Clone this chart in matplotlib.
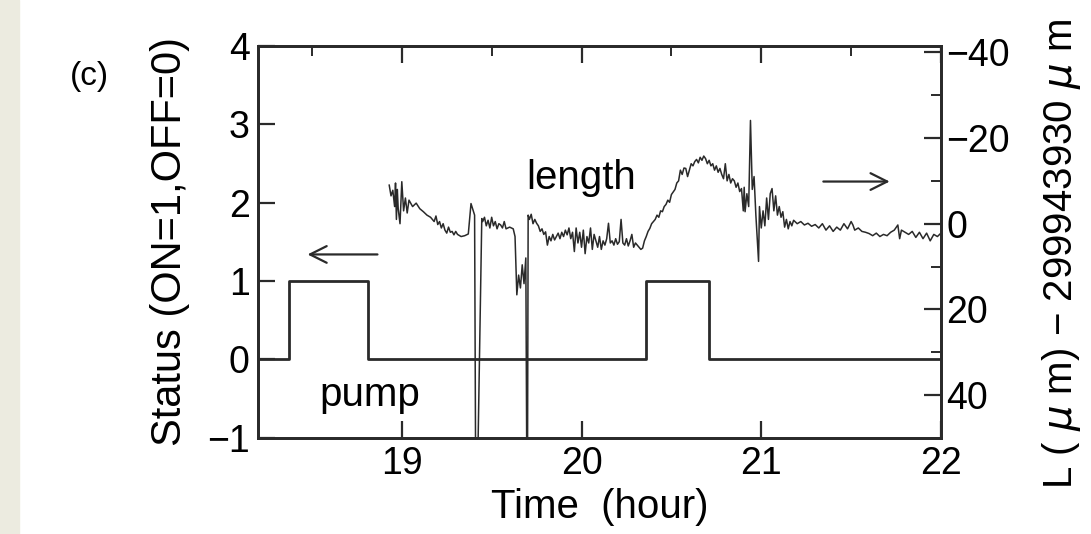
import matplotlib
matplotlib.use("Agg")
import matplotlib.pyplot as plt
from matplotlib.patches import Rectangle
from matplotlib.ticker import MultipleLocator

plt.rcParams['font.family'] = ['Liberation Sans', 'DejaVu Sans']
plt.rcParams['mathtext.fontset'] = 'dejavusans'

# pump status (step data)
pump_t = [18.2, 18.37, 18.37, 18.81, 18.81, 20.36, 20.36, 20.71, 20.71, 22.0]
pump_s = [0, 0, 1, 1, 0, 0, 1, 1, 0, 0]

# length trace, right axis (um); 80 = off scale below the frame
len_t = [18.93, 18.94, 18.95, 18.96, 18.965, 18.97, 18.975, 18.98, 18.99, 19.00,
         19.01, 19.02, 19.03, 19.04, 19.06, 19.08, 19.10, 19.12, 19.14, 19.16,
         19.18, 19.19, 19.20, 19.21, 19.22, 19.23, 19.24, 19.25, 19.26, 19.27,
         19.28, 19.29, 19.30, 19.31, 19.33, 19.35, 19.37, 19.385, 19.405, 19.413,
         19.445, 19.45, 19.46, 19.47, 19.48, 19.49, 19.50, 19.51, 19.52, 19.53,
         19.54, 19.55, 19.56, 19.57, 19.58, 19.60, 19.62, 19.63, 19.64, 19.65,
         19.66, 19.67, 19.68, 19.69, 19.698, 19.703, 19.71, 19.72, 19.73, 19.74,
         19.75, 19.76, 19.77, 19.78, 19.79, 19.80, 19.81, 19.82, 19.83, 19.84,
         19.85, 19.86, 19.87, 19.88, 19.89, 19.90, 19.91, 19.92, 19.93, 19.94,
         19.95, 19.96, 19.97, 19.98, 19.99, 20.00, 20.01, 20.02, 20.03, 20.04,
         20.05, 20.06, 20.07, 20.08, 20.09, 20.10, 20.11, 20.12, 20.13, 20.14,
         20.15, 20.16, 20.17, 20.18, 20.19, 20.20, 20.21, 20.22, 20.23, 20.24,
         20.25, 20.26, 20.27, 20.28, 20.29, 20.30, 20.31, 20.32, 20.33, 20.34,
         20.35, 20.36, 20.37, 20.38, 20.39, 20.40, 20.41, 20.42, 20.43, 20.44,
         20.45, 20.46, 20.47, 20.48, 20.49, 20.50, 20.51, 20.52, 20.53, 20.54,
         20.55, 20.56, 20.57, 20.58, 20.59, 20.60, 20.61, 20.62, 20.63, 20.64,
         20.65, 20.66, 20.67, 20.68, 20.69, 20.70, 20.71, 20.72, 20.73, 20.74,
         20.75, 20.76, 20.77, 20.78, 20.79, 20.80, 20.81, 20.82, 20.83, 20.84,
         20.85, 20.86, 20.87, 20.88, 20.89, 20.90, 20.905, 20.91, 20.92, 20.93,
         20.94, 20.95, 20.96, 20.97, 20.985, 20.99, 21.00, 21.01, 21.02, 21.03,
         21.04, 21.05, 21.06, 21.07, 21.08, 21.09, 21.10, 21.11, 21.12, 21.13,
         21.14, 21.15, 21.16, 21.17, 21.18, 21.20, 21.22, 21.24, 21.26, 21.28,
         21.30, 21.32, 21.34, 21.36, 21.38, 21.40, 21.42, 21.44, 21.46, 21.48,
         21.50, 21.51, 21.52, 21.54, 21.56, 21.58, 21.60, 21.62, 21.64, 21.66,
         21.68, 21.70, 21.72, 21.74, 21.76, 21.77, 21.78, 21.80, 21.82, 21.84,
         21.86, 21.88, 21.90, 21.92, 21.94, 21.96, 21.98, 22.00]
len_v = [-9.0, -6.5, -7.8, -4.0, -9.5, -1.0, -8.0, -3.5, 0.0, -9.8,
         -3.0, -6.0, -2.5, -5.5, -4.0, -4.8, -3.5, -2.8, -2.0, -1.5,
         -0.5, -1.8, 0.2, -0.5, 1.0, 0.0, 1.5, 2.2, 0.8, 2.0,
         1.8, 2.6, 1.8, 2.5, 3.0, 2.8, 2.4, -4.7, -2.0, 80,
         -1.2, -0.5, -1.5, 0.5, -0.8, 1.0, -1.5, 0.5, -0.5, 1.2,
         0.0, 0.3, 1.0, -0.5, 1.2, 0.8, 1.2, 3.0, 16.6, 12.0,
         15.0, 9.6, 14.0, 8.0, 80, -2.0, -1.0, -2.2, 0.0, -1.0,
         -0.1, 0.5, 1.8, 1.2, 2.5, 1.9, 5.0, 3.0, 4.0, 2.5,
         3.8, 3.0, 2.2, 3.5, 2.0, 3.0, 1.5, 2.6, 1.0, 3.5,
         2.0, 6.5, 1.0, 4.5, 2.0, 5.5, 1.5, 7.0, 3.0, 4.5,
         1.0, 6.0, 2.5, 4.0, 5.5, 3.0, 6.0, 4.0, 5.0, 3.5,
         -0.1, 4.5, 4.0, 5.0, 3.5, 4.8, 4.2, -1.0, 4.5, 5.0,
         3.5, 5.2, 4.0, 2.5, 5.5, 4.5, 5.0, 5.5, 6.0, 5.7,
         4.0, 3.0, 1.8, 1.1, 0.0, -0.5, -1.0, -2.0, -1.5, -3.0,
         -2.8, -4.0, -4.5, -5.5, -5.0, -6.8, -7.4, -8.0, -9.5, -10.0,
         -12.5, -11.5, -13.0, -12.9, -11.0, -12.5, -14.0, -13.5, -14.5, -15.0,
         -14.2, -15.5, -14.8, -15.8, -15.2, -14.0, -14.8, -13.5, -14.0, -12.5,
         -13.5, -12.0, -12.9, -11.5, -10.5, -14.0, -10.0, -11.5, -9.5, -10.5,
         -10.0, -8.5, -9.5, -7.5, -8.2, -3.0, -8.5, -2.8, -7.0, -4.0,
         -24.1, -8.0, -11.0, -2.0, 8.8, -4.0, 1.0, -3.0, 0.5, -6.0,
         -1.0, -7.0, -8.2, -3.0, -6.5, -2.0, -4.0, -1.5, -2.8, 0.8,
         -1.0, 1.2, -0.5, 0.5, -0.8, 0.0, -0.5, 0.3, -0.1, 0.6,
         0.2, 1.0, 0.0, 1.5, 0.5, 1.8, 0.8, 1.5, 0.0, 1.2,
         -0.5, 0.3, 1.5, 1.0, 1.8, 2.0, 2.3, 2.8, 2.2, 3.0,
         2.5, 2.8, 2.0, 1.5, 0.3, 3.5, 1.5, 2.0, 2.5, 1.8,
         3.2, 2.0, 3.5, 2.2, 4.0, 2.5, 3.0, 2.2]

left_ticks = [-1, 0, 1, 2, 3, 4]
left_labels = ['\u22121', '0', '1', '2', '3', '4']
right_ticks = [-40, -20, 0, 20, 40]
right_labels = ['\u221240', '\u221220', '0', '20', '40']
x_ticks = [19, 20, 21, 22]

ink = '#2a2a2a'
fs = 27    # tick labels
lfs = 29   # axis labels and annotations

fig = plt.figure(figsize=(10.91, 5.34), dpi=100)
fig.patches.append(Rectangle((0, 0), 0.017, 1, transform=fig.transFigure,
                             color='#ecebe0', zorder=0))

ax = fig.add_axes([0.2365, 0.18, 0.626, 0.734])
ax2 = ax.twinx()

ax.plot(pump_t, pump_s, color=ink, lw=2.0)
ax2.plot(len_t, len_v, color=ink, lw=1.1)

ax.set_xlim(18.2, 22.0)
ax.set_ylim(-1, 4)
ax2.set_ylim(50, -41.5)

ax.set_xticks(x_ticks)
ax.set_xticklabels([str(t) for t in x_ticks])
ax.xaxis.set_minor_locator(MultipleLocator(0.5))
ax.set_yticks(left_ticks)
ax.set_yticklabels(left_labels)
ax2.set_yticks(right_ticks)
ax2.set_yticklabels(right_labels)
ax2.yaxis.set_minor_locator(MultipleLocator(10))

ax.tick_params(axis='both', which='major', direction='in', length=12, width=1.6,
               color=ink, labelsize=fs, pad=6)
ax.tick_params(axis='x', which='major', top=True, labeltop=False)
ax.tick_params(axis='x', which='minor', direction='in', length=7, width=1.4,
               color=ink, top=True, bottom=False)
ax.tick_params(axis='y', which='minor', left=False)
ax2.tick_params(axis='y', which='major', direction='in', length=12, width=1.6,
                color=ink, labelsize=fs, pad=4)
ax2.tick_params(axis='y', which='minor', direction='in', length=7, width=1.4,
                color=ink)

for a in (ax, ax2):
    for sp in a.spines.values():
        sp.set_linewidth(2.0)
        sp.set_color(ink)

ax.set_xlabel('Time  (hour)', fontsize=lfs, labelpad=4)
ax.set_ylabel('Status (ON=1,OFF=0)', fontsize=30)
ax.yaxis.set_label_coords(-0.10, 0.5)
ax2.set_ylabel('L ( $\\mu$ m) \u2212 299943930 $\\mu$ m', fontsize=lfs, rotation=90)
ax2.yaxis.set_label_coords(1.145, 0.47)

ax.text(20.0, 2.32, 'length', fontsize=lfs, ha='center', va='center')
ax.text(18.82, -0.45, 'pump', fontsize=lfs, ha='center', va='center')
ax.annotate('', xy=(18.46, 1.34), xytext=(18.88, 1.34),
            arrowprops=dict(arrowstyle='->', color=ink, lw=1.6, mutation_scale=30))
ax.annotate('', xy=(21.73, 2.27), xytext=(21.33, 2.27),
            arrowprops=dict(arrowstyle='->', color=ink, lw=1.6, mutation_scale=30))

fig.text(0.082, 0.856, '(c)', fontsize=24, ha='center', va='center')

fig.savefig('out.png', dpi=100)
